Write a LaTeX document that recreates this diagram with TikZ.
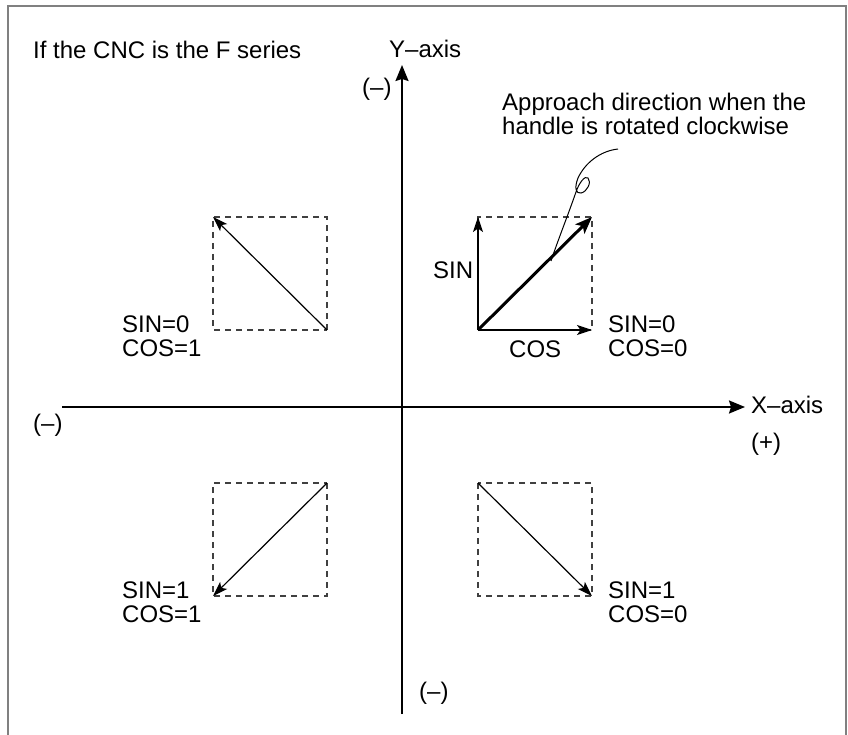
\documentclass[tikz,border=0pt]{standalone}
\usepackage{fontspec}
\setmainfont{Liberation Sans}
\usetikzlibrary{arrows.meta}
\begin{document}
\begin{tikzpicture}[x=1pt,y=-1pt,
  lbl/.style={inner sep=0pt,anchor=base west,font=\fontsize{24}{24}\selectfont},
  axisline/.style={line width=2pt,-{Stealth[length=16pt,width=13pt,inset=2pt]}},
  thinarrow/.style={line width=1.2pt,-{Stealth[length=15pt,width=10pt,inset=3.5pt]}},
  thickarrow/.style={line width=3pt,-{Stealth[length=17pt,width=13pt,inset=4pt]}},
  dashbox/.style={draw=black!75,line width=1.1pt,dash pattern=on 6pt off 5pt},
  framel/.style={draw=black!50,line width=2.5pt}]
\useasboundingbox (0,0) rectangle (848,735);
\fill[white] (0,0) rectangle (848,735);
% frame
\draw[framel] (8,735) -- (8,6) -- (846,6) -- (846,735);
% axes
\coordinate (ybot) at (402,714);
\coordinate (ytop) at (402,65);
\coordinate (xleft) at (62,407);
\coordinate (xright) at (745,407);
\draw[axisline] (ybot) -- (ytop);
\draw[axisline] (xleft) -- (xright);
% squares corners
\coordinate (trA) at (478,330); \coordinate (trB) at (592,217);
\coordinate (tlA) at (327,330); \coordinate (tlB) at (213,217);
\coordinate (blA) at (327,483); \coordinate (blB) at (213,596);
\coordinate (brA) at (478,483); \coordinate (brB) at (592,596);
\draw[dashbox] (trA) rectangle (trB);
\draw[dashbox] (tlA) rectangle (tlB);
\draw[dashbox] (blA) rectangle (blB);
\draw[dashbox] (brA) rectangle (brB);
% arrows
\coordinate (trUp) at (478,217);
\coordinate (trRt) at (592,330);
\draw[thinarrow] (trA) -- (trUp);
\draw[thinarrow] (trA) -- (trRt);
\draw[thickarrow] (trA) -- (trB);
\draw[thinarrow] (tlA) -- (tlB);
\draw[thinarrow] (blA) -- (blB);
\draw[thinarrow] (brA) -- (brB);
% pointer curve
\coordinate (pstart) at (618,149);
\coordinate (pend) at (551,261);
\draw[line width=1pt] (pstart) .. controls (600,151) and (585,163) .. (578,178)
  .. controls (574,188) and (576,194) .. (581,193)
  .. controls (587,192) and (592,182) .. (588,178)
  .. controls (585,175) and (579,183) .. (576,192)
  .. controls (568,215) and (558,240) .. (pend);
% texts
\node[lbl] (title) at (33,59) {If the CNC is the F series};
\node[lbl] (yax) at (389,58) {Y–axis};
\node[lbl] (yneg) at (362,96) {(–)};
\node[lbl] (app1) at (502,111) {Approach direction when the};
\node[lbl] (app2) at (502,135) {handle is rotated clockwise};
\node[lbl] (xax) at (751,413) {X–axis};
\node[lbl] (xpos) at (751,450) {(+)};
\node[lbl] (xneg) at (33,431) {(–)};
\node[lbl] (ynegb) at (419,699) {(–)};
\node[lbl] (sin) at (433,278) {SIN};
\node[lbl] (cos) at (509,357) {COS};
\node[lbl] (tr1) at (608,332) {SIN=0};
\node[lbl] (tr2) at (608,356) {COS=0};
\node[lbl] (tl1) at (122,332) {SIN=0};
\node[lbl] (tl2) at (122,356) {COS=1};
\node[lbl] (bl1) at (122,598) {SIN=1};
\node[lbl] (bl2) at (122,622) {COS=1};
\node[lbl] (br1) at (608,598) {SIN=1};
\node[lbl] (br2) at (608,622) {COS=0};
\end{tikzpicture}
\end{document}
